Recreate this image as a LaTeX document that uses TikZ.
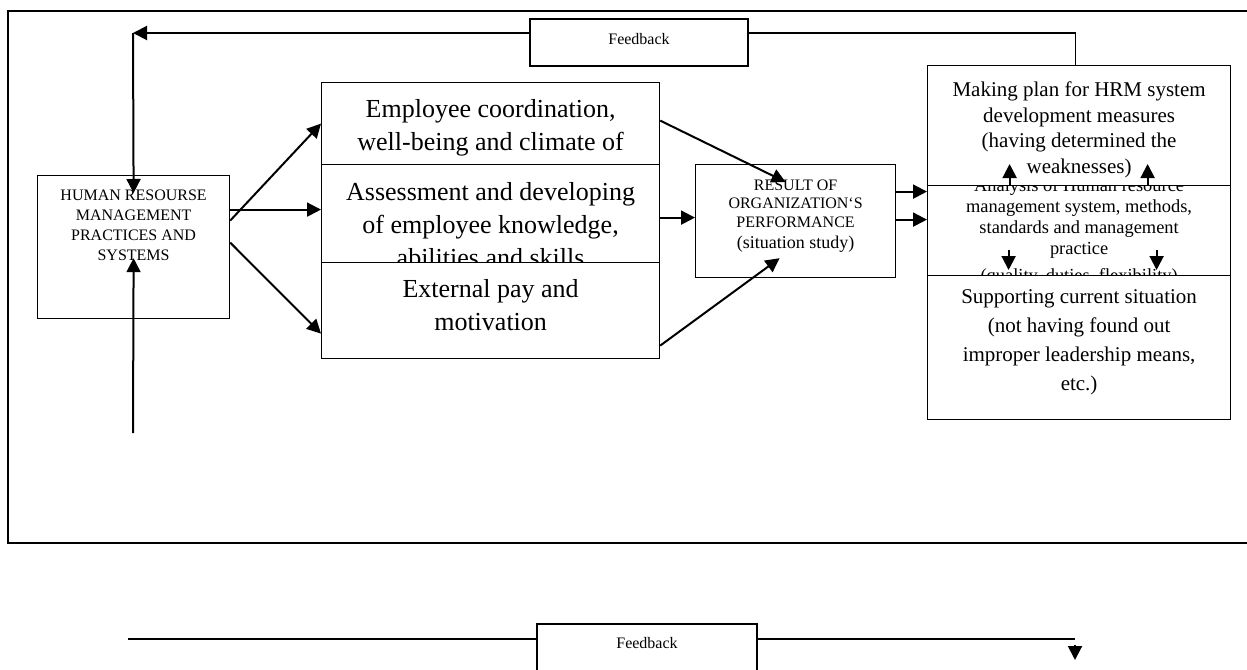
\documentclass[tikz,border=0pt]{standalone}
\usepackage{fontspec}
\setmainfont{Liberation Serif}
\usetikzlibrary{arrows.meta,positioning}

\begin{document}
\begin{tikzpicture}[x=0.5pt,y=-0.5pt,
  box/.style={draw,line width=0.6pt,fill=white,inner sep=0pt,anchor=north west},
  fbbox/.style={draw,line width=0.8pt,fill=white,inner sep=0pt,font=\fontsize{8}{9}\selectfont},
  txt/.style={inner sep=0pt,align=center},
  bigtxt/.style={txt,font=\fontsize{13}{16.5}\selectfont},
  arr/.style={line width=1pt,-{Triangle[length=7pt,width=7pt]}},
  link/.style={line width=0.8pt}]
\useasboundingbox (0,0) rectangle (1247,669);
% frame
\draw[line width=0.75pt] (1247,11) -- (8,11) -- (8,543) -- (1247,543);

% left box
\node[box,minimum width=96pt,minimum height=71.5pt] (hrm) at (37,175) {};
\node[txt,font=\fontsize{8}{10}\selectfont,below=7.5pt of hrm.north] (hrmtxt)
  {HUMAN RESOURSE\\MANAGEMENT\\PRACTICES AND\\SYSTEMS};

% middle boxes
\node[box,minimum width=169pt,minimum height=41pt] (emp) at (321,82) {};
\node[bigtxt,below=8.5pt of emp.north] (emptxt) {Employee coordination,\\well-being and climate of};
\node[box,minimum width=169pt,minimum height=49pt] (asd) at (321,164) {};
\node[bigtxt,below=9pt of asd.north] (asdtxt) {Assessment and developing\\of employee knowledge,\\abilities and skills};
\node[box,minimum width=169pt,minimum height=48pt] (pay) at (321,262) {};
\node[bigtxt,below=8.5pt of pay.north] (paytxt) {External pay and\\motivation};

% result
\node[box,minimum width=100pt,minimum height=56.5pt] (res) at (695,164) {};
\node[txt,font=\fontsize{8}{9.3}\selectfont,below=7.7pt of res.north] (restxt)
  {RESULT OF\\ORGANIZATION‘S\\PERFORMANCE\\[1pt]{\fontsize{9}{10}\selectfont (situation study)}};

% right boxes
\node[box,minimum width=151.5pt,minimum height=45pt] (ana) at (927,185) {};
\node[txt,font=\fontsize{9.2}{10.5}\selectfont,below=-3.3pt of ana.north] (anatxt)
  {Analysis of Human resource\\management system, methods,\\standards and management\\practice\\[3pt](quality, duties, flexibility)};
\node[box,minimum width=151.5pt,minimum height=60pt] (plan) at (927,65) {};
\node[txt,font=\fontsize{10.5}{12.85}\selectfont,below=8.2pt of plan.north] (plantxt)
  {Making plan for HRM system\\development measures\\(having determined the\\weaknesses)};
\node[box,minimum width=151.5pt,minimum height=72pt] (sup) at (927,275) {};
\node[txt,font=\fontsize{10.5}{14.5}\selectfont,below=7pt of sup.north] (suptxt)
  {Supporting current situation\\(not having found out\\improper leadership means,\\etc.)};

% top feedback loop
\node[fbbox,minimum width=109pt,minimum height=23.5pt,text depth=4pt] (fbtop) at (639,42.5) {Feedback};
\coordinate (fbcorner) at (133,33);
\draw[arr] (fbtop.west |- fbcorner) -- (fbcorner);
\draw[arr] (fbcorner) -- ([yshift=-9pt]hrm.north);
\draw[link] (fbtop.east |- fbcorner) -| ([xshift=-1.75pt]plan.north);
\coordinate (hrmsrc) at (133,433);
\draw[arr] (hrmsrc) -- ([yshift=30.5pt]hrm.south);

% arrows
\draw[arr] ([yshift=13.25pt]hrm.east) -- (emp.west);
\draw[arr] ([yshift=18.75pt]hrm.east) -- ([yshift=2pt]asd.west);
\draw[arr] ([yshift=2.25pt]hrm.east) -- ([yshift=-11.5pt]pay.west);
\draw[arr] ([yshift=1.5pt]emp.east) -- ([xshift=-5pt,yshift=-9pt]res.north);
\draw[arr] ([yshift=-2pt]asd.east) -- ([yshift=1.75pt]res.west);
\draw[arr] ([yshift=-17.5pt]pay.east) -- ([xshift=-8pt,yshift=10pt]res.south);
\draw[arr] ([yshift=14.75pt]res.east) -- ([yshift=19.5pt]ana.west);
\draw[arr] ([yshift=0.75pt]res.east) -- ([yshift=5.5pt]ana.west);
\draw[arr] ([xshift=-34.75pt]ana.north) -- ([xshift=-34.75pt,yshift=10.5pt]ana.north);
\draw[arr] ([xshift=34.25pt]ana.north) -- ([xshift=34.25pt,yshift=10.5pt]ana.north);
\draw[arr] ([xshift=-35.25pt,yshift=12.5pt]sup.north) -- ([xshift=-35.25pt,yshift=2.5pt]sup.north);
\draw[arr] ([xshift=38.75pt,yshift=12.5pt]sup.north) -- ([xshift=38.75pt,yshift=2.5pt]sup.north);

% bottom feedback
\node[fbbox,minimum width=110pt,minimum height=33.5pt,anchor=north] (fbbot) at (647,623) {};
\node[font=\fontsize{8}{9}\selectfont,inner sep=0pt,anchor=base] (fbbottxt) at ([yshift=-12.5pt]fbbot.north) {Feedback};
\coordinate (fbstart) at (128,639);
\coordinate (fbend) at (1075,639);
\draw[link] (fbstart) -- (fbbot.west |- fbstart);
\draw[link] (fbbot.east |- fbend) -- (fbend);
\draw[arr] ([yshift=-3pt]fbend) -- ([yshift=-10.5pt]fbend);
\end{tikzpicture}
\end{document}
